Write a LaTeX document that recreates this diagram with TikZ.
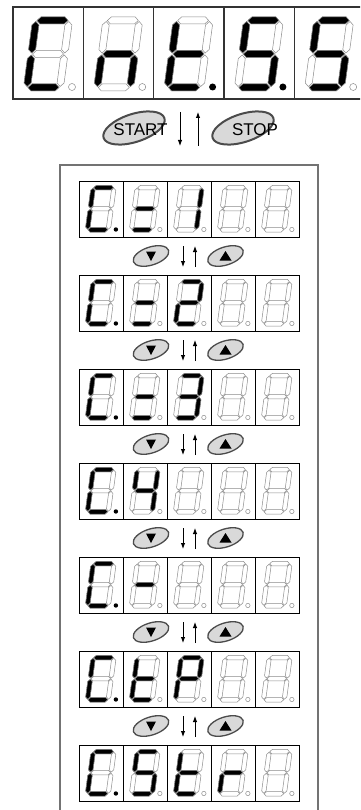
\documentclass[tikz,border=0pt]{standalone}
\usepackage{fontspec}
\newfontfamily\keyfont{Liberation Sans}
\usetikzlibrary{arrows.meta,shapes.geometric}
\definecolor{SegGray}{RGB}{140,140,140}
\definecolor{KeyFill}{RGB}{217,217,217}
\definecolor{KeyRim}{RGB}{75,75,75}
\definecolor{FrameGray}{RGB}{115,115,115}

% segment outlines of one digit, upright box 40 x 74
\def\sega{(4.5,70.5) -- (8,74) -- (32,74) -- (35.5,70.5) -- (32,67) -- (8,67) -- cycle}
\def\segg{(4.5,37) -- (8,40.5) -- (32,40.5) -- (35.5,37) -- (32,33.5) -- (8,33.5) -- cycle}
\def\segd{(4.5,3.5) -- (8,7) -- (32,7) -- (35.5,3.5) -- (32,0) -- (8,0) -- cycle}
\def\segf{(3.5,38) -- (7,41.5) -- (7,66) -- (3.5,69.5) -- (0,66) -- (0,41.5) -- cycle}
\def\sege{(3.5,4.5) -- (7,8) -- (7,32.5) -- (3.5,36) -- (0,32.5) -- (0,8) -- cycle}
\def\segb{(36.5,38) -- (40,41.5) -- (40,66) -- (36.5,69.5) -- (33,66) -- (33,41.5) -- cycle}
\def\segc{(36.5,4.5) -- (40,8) -- (40,32.5) -- (36.5,36) -- (33,32.5) -- (33,8) -- cycle}
\def\segx{}

\tikzset{
  segoff/.style={draw=SegGray, line width=0.5pt, fill=white},
  segon/.style={draw=SegGray, line width=0.5pt, fill=black},
  doton/.style={fill=black},
  dotoff/.style={draw=SegGray, line width=0.5pt, fill=white},
  bigcell/.style={rectangle, draw=black!80, line width=1.2pt, minimum width=70.3pt, minimum height=92pt, inner sep=0pt},
  smallcell/.style={rectangle, draw=black, line width=0.9pt, minimum width=44pt, minimum height=56pt, inner sep=0pt},
  key/.style={ellipse, draw=KeyRim, fill=KeyFill, rotate=18, inner sep=0pt},
  bigkey/.style={key, line width=2pt, minimum width=64pt, minimum height=28pt},
  smallkey/.style={key, line width=1.3pt, minimum width=37pt, minimum height=18pt},
  keytext/.style={font=\keyfont\fontsize{17}{17}\selectfont, inner sep=0pt},
  flow/.style={-{Latex[length=6pt,width=4.5pt]}, line width=0.9pt}
}

% #1 bottom-left of digit, #2 scale, #3 lit segments, #4 dot style
\newcommand\sevseg[4]{%
  \edef\seglist{#3}%
  \begin{scope}[shift={#1}, scale=#2]
    \begin{scope}[xslant=0.135]
      \foreach \s in {a,b,c,d,e,f,g} \path[segoff] \csname seg\s\endcsname;
      \foreach \s in \seglist \path[segon] \csname seg\s\endcsname;
    \end{scope}
    \path[#4] (49,4) circle (3.5);
  \end{scope}}

% one small display: #1 row, #2..#6 lit segments of the five cells
\newcommand\panel[6]{%
  \pgfmathsetmacro\rowtop{181+94*#1}
  \foreach \c in {0,...,4}
    \node[smallcell] (p#1-\c) at (101+44*\c,-\rowtop-28) {};
  \sevseg{(85,-\rowtop-51)}{0.63}{#2}{doton}
  \sevseg{(129,-\rowtop-51)}{0.63}{#3}{dotoff}
  \sevseg{(173,-\rowtop-51)}{0.63}{#4}{dotoff}
  \sevseg{(217,-\rowtop-51)}{0.63}{#5}{dotoff}
  \sevseg{(261,-\rowtop-51)}{0.63}{#6}{dotoff}}

\begin{document}
\begin{tikzpicture}[x=1pt, y=1pt]
  \useasboundingbox (0,0) rectangle (360,-810);
  \clip (0,0) rectangle (360,-810);

  % main display
  \foreach \i in {0,...,4}
    \node[bigcell] (m\i) at (48.15+70.3*\i,-53) {};
  \sevseg{(23,-91)}{1}{a,d,e,f}{dotoff}
  \sevseg{(93.3,-91)}{1}{c,e,g}{dotoff}
  \sevseg{(163.6,-91)}{1}{d,e,f,g}{doton}
  \sevseg{(233.9,-91)}{1}{a,c,d,f,g}{doton}
  \sevseg{(304.2,-91)}{1}{a,c,d,f,g}{dotoff}

  % start / stop
  \node[bigkey] (start) at (134,-128) {};
  \node[bigkey] (stop) at (243,-128) {};
  \node[keytext] (startlbl) at (140.5,-129.5) {START};
  \node[keytext] (stoplbl) at (255,-129.5) {STOP};
  \coordinate (godn) at (180,-112);
  \coordinate (gobot) at (180,-146);
  \coordinate (backbot) at (198,-146);
  \coordinate (backtop) at (198,-112);
  \draw[flow] (godn) -- (gobot);
  \draw[flow] (backbot) -- (backtop);

  % menu frame
  \draw[FrameGray, line width=1.2pt] (60,-165) rectangle (318,-830);

  \panel{0}{a,d,e,f}{d,g}{b,c}{x}{x}
  \panel{1}{a,d,e,f}{d,g}{a,b,d,e,g}{x}{x}
  \panel{2}{a,d,e,f}{d,g}{a,b,c,d,g}{x}{x}
  \panel{3}{a,d,e,f}{b,c,f,g}{x}{x}{x}
  \panel{4}{a,d,e,f}{g}{x}{x}{x}
  \panel{5}{a,d,e,f}{d,e,f,g}{a,b,e,f,g}{x}{x}
  \panel{6}{a,d,e,f}{a,c,d,f,g}{d,e,f,g}{e,g}{x}

  % up / down keys between the displays
  \foreach \k in {0,...,5} {
    \pgfmathsetmacro\rowmid{256+94*\k}
    \node[smallkey] (dn\k) at (151,-\rowmid) {};
    \node[smallkey] (up\k) at (225.5,-\rowmid) {};
    \fill[shift={(dn\k.center)}] (-5,4.5) -- (5,4.5) -- (0,-5) -- cycle;
    \fill[shift={(up\k.center)}] (-6,-4.5) -- (6,-4.5) -- (0,5) -- cycle;
    \coordinate (nexttop\k) at (183,-\rowmid+10);
    \coordinate (nextbot\k) at (183,-\rowmid-11);
    \coordinate (prevbot\k) at (195,-\rowmid-11);
    \coordinate (prevtop\k) at (195,-\rowmid+10);
    \draw[flow] (nexttop\k) -- (nextbot\k);
    \draw[flow] (prevbot\k) -- (prevtop\k);
  }
\end{tikzpicture}
\end{document}
